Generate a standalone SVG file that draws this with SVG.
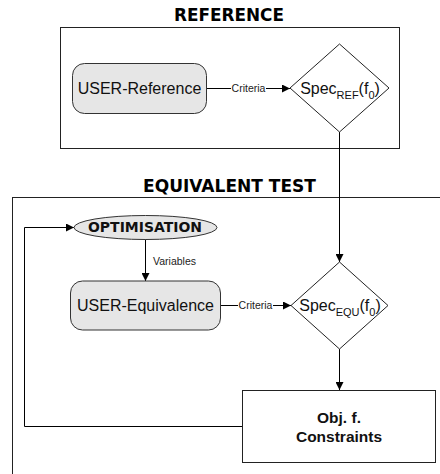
<svg xmlns="http://www.w3.org/2000/svg" width="440" height="474" viewBox="0 0 440 474">
<style>
.title{font-family:"DejaVu Sans",sans-serif;font-weight:bold;font-size:17px;fill:#000}
.frame{fill:none;stroke:#222;stroke-width:1}
.proc{fill:#e6e6e6;stroke:#333;stroke-width:1}
.dia{fill:#fff;stroke:#222;stroke-width:1}
.lbl{font-family:"Liberation Sans",Arial,sans-serif;font-size:16px;fill:#111}
.spec{font-family:"Liberation Sans",Arial,sans-serif;font-size:16px;fill:#111}
.sm{font-family:"Liberation Sans",Arial,sans-serif;font-size:10.5px;fill:#222}
.bold{font-family:"Liberation Sans",Arial,sans-serif;font-size:15.5px;font-weight:bold;fill:#111}
.conn{fill:none;stroke:#000;stroke-width:1}
</style>
<defs>
<marker id="arr" viewBox="0 0 10 10" refX="10" refY="5" markerWidth="8" markerHeight="8" markerUnits="userSpaceOnUse" orient="auto">
<path d="M0,0 L10,5 L0,10 Z" fill="#000"/>
</marker>
</defs>
<g id="frame-reference">
<rect class="frame" x="60.5" y="27.5" width="339" height="121"/>
<text class="title" x="229" y="20.5" text-anchor="middle" textLength="110" lengthAdjust="spacingAndGlyphs">REFERENCE</text>
</g>
<g id="frame-equivalent">
<rect class="frame" x="12.5" y="197.5" width="440" height="300"/>
<text class="title" x="229.5" y="191.5" text-anchor="middle" textLength="173" lengthAdjust="spacingAndGlyphs">EQUIVALENT TEST</text>
</g>
<g id="connectors">
<path class="conn" d="M206,88.5 H231"/>
<path class="conn" d="M266,88.5 H290" marker-end="url(#arr)"/>
<text class="sm" x="248.5" y="92" text-anchor="middle">Criteria</text>
<path class="conn" d="M339.5,132 V262" marker-end="url(#arr)"/>
<path class="conn" d="M145.5,239 V281" marker-end="url(#arr)"/>
<text class="sm" x="153" y="265">Variables</text>
<path class="conn" d="M220,305.5 H238"/>
<path class="conn" d="M273,305.5 H291" marker-end="url(#arr)"/>
<text class="sm" x="255.5" y="309" text-anchor="middle">Criteria</text>
<path class="conn" d="M339.5,349 V390" marker-end="url(#arr)"/>
<path class="conn" d="M243,426.5 H24.5 V227.5 H74" marker-end="url(#arr)"/>
</g>
<g id="user-reference">
<rect class="proc" x="72.5" y="63.5" width="134" height="50" rx="12"/>
<text class="lbl" x="139.5" y="94" text-anchor="middle">USER-Reference</text>
</g>
<g id="spec-ref">
<path class="dia" d="M339.5,44 L389,88 L339.5,132 L290,88 Z"/>
<text class="spec" x="340" y="93.5" text-anchor="middle">Spec<tspan font-size="11" dy="5">REF</tspan><tspan dy="-5">(f</tspan><tspan font-size="11" dy="5">0</tspan><tspan dy="-5">)</tspan></text>
</g>
<g id="optimisation">
<ellipse class="proc" cx="145.5" cy="227.5" rx="71.5" ry="12"/>
<text x="145" y="232" text-anchor="middle" font-family="DejaVu Sans, sans-serif" font-weight="bold" font-size="13.5" textLength="114" lengthAdjust="spacingAndGlyphs" fill="#111">OPTIMISATION</text>
</g>
<g id="user-equivalence">
<rect class="proc" x="70.5" y="281" width="150" height="49" rx="12"/>
<text class="lbl" x="145.5" y="311" text-anchor="middle">USER-Equivalence</text>
</g>
<g id="spec-equ">
<path class="dia" d="M339.5,262 L388,305.5 L339.5,349 L291,305.5 Z"/>
<text class="spec" x="340" y="311" text-anchor="middle">Spec<tspan font-size="11" dy="5">EQU</tspan><tspan dy="-5">(f</tspan><tspan font-size="11" dy="5">0</tspan><tspan dy="-5">)</tspan></text>
</g>
<g id="objective">
<rect x="242.5" y="390.5" width="193" height="72" fill="#fff" stroke="#222" stroke-width="1"/>
<text class="bold" x="339" y="422.5" text-anchor="middle">Obj. f.</text>
<text class="bold" x="339" y="441.5" text-anchor="middle">Constraints</text>
</g>
</svg>
